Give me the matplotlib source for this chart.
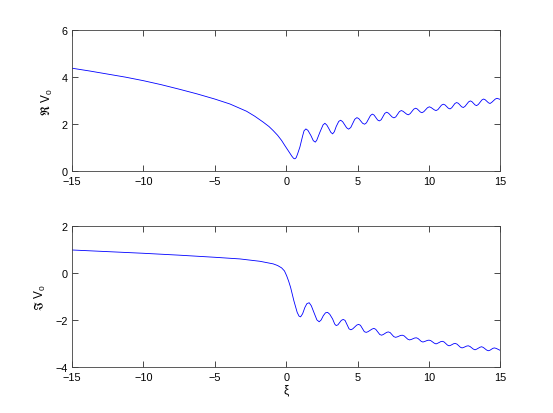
import numpy as np
import matplotlib
matplotlib.use("Agg")
import matplotlib.pyplot as plt

# values (peaks, troughs and shoulders of the ripples)
re_xi = [-15, -13.75, -12.5, -11.25, -10, -8.75, -7.5, -6.25, -5, -3.94, -2.77, -2.2,
         -1.61, -1.2, -0.91, -0.6, -0.32, -0.1, 0.14, 0.40, 0.52, 0.61, 0.70, 0.80,
         0.96, 1.15, 1.25, 1.38, 1.52, 1.73, 1.90, 2.04, 2.14, 2.36, 2.58, 2.71, 2.85,
         3.0, 3.12, 3.25, 3.37, 3.5, 3.68, 3.81, 3.95, 4.23, 4.37, 4.52, 4.80, 4.95,
         5.08, 5.35, 5.49, 5.62, 5.90, 6.03, 6.15, 6.40, 6.52, 6.65, 6.90, 7.03, 7.16,
         7.41, 7.54, 7.67, 7.93, 8.06, 8.18, 8.43, 8.55, 8.68, 8.93, 9.06, 9.17, 9.39,
         9.50, 9.63, 9.89, 10.02, 10.14, 10.37, 10.49, 10.62, 10.87, 11.00, 11.12, 11.35,
         11.47, 11.59, 11.81, 11.93, 12.05, 12.28, 12.40, 12.52, 12.77, 12.89, 13.00,
         13.22, 13.33, 13.45, 13.70, 13.82, 13.93, 14.16, 14.27, 14.39, 14.64, 14.76, 15]
re_v0 = [4.38, 4.26, 4.13, 4.00, 3.85, 3.68, 3.49, 3.29, 3.07, 2.86, 2.55, 2.34,
         2.09, 1.90, 1.73, 1.53, 1.31, 1.10, 0.88, 0.64, 0.55, 0.53, 0.58, 0.74,
         1.03, 1.50, 1.72, 1.80, 1.74, 1.52, 1.30, 1.24, 1.32, 1.66, 1.97, 2.04, 1.96,
         1.80, 1.66, 1.59, 1.68, 1.90, 2.12, 2.17, 2.11, 1.85, 1.79, 1.86, 2.21, 2.28,
         2.24, 2.04, 2.00, 2.06, 2.37, 2.43, 2.39, 2.18, 2.14, 2.19, 2.46, 2.51, 2.47,
         2.31, 2.27, 2.31, 2.54, 2.58, 2.55, 2.43, 2.40, 2.45, 2.64, 2.68, 2.65, 2.52,
         2.49, 2.53, 2.70, 2.74, 2.71, 2.61, 2.58, 2.62, 2.81, 2.85, 2.82, 2.68,
         2.65, 2.70, 2.88, 2.92, 2.89, 2.74, 2.71, 2.76, 2.95, 2.99, 2.96,
         2.82, 2.79, 2.84, 3.03, 3.07, 3.04, 2.91, 2.88, 2.93, 3.07, 3.10, 3.05]

im_xi = [-15, -12.5, -10, -7.5, -5, -3.24, -1.84, -0.91, -0.6, -0.32, -0.12, 0.03,
         0.17, 0.31, 0.54, 0.77, 0.90, 1.01, 1.15, 1.31, 1.45, 1.61, 1.76, 1.94, 2.15,
         2.31, 2.45, 2.60, 2.75, 2.90, 3.05, 3.25, 3.40, 3.50, 3.62, 3.86, 3.99, 4.12,
         4.40, 4.53, 4.66, 4.94, 5.07, 5.20, 5.47, 5.60, 5.73, 6.01, 6.14, 6.27, 6.55,
         6.68, 6.80, 7.03, 7.15, 7.28, 7.53, 7.66, 7.78, 8.01, 8.13, 8.26, 8.51, 8.64,
         8.76, 8.99, 9.11, 9.23, 9.45, 9.57, 9.68, 9.89, 10.0, 10.12, 10.37, 10.49,
         10.61, 10.83, 10.95, 11.06, 11.29, 11.4, 11.51, 11.73, 11.84, 11.96, 12.19,
         12.31, 12.42, 12.64, 12.75, 12.87, 13.10, 13.22, 13.34, 13.57, 13.68, 13.80,
         14.03, 14.15, 14.26, 14.46, 14.57, 14.70, 15]
im_v0 = [0.99, 0.92, 0.85, 0.77, 0.68, 0.61, 0.51, 0.40, 0.33, 0.23, 0.10, -0.10,
         -0.33, -0.60, -1.17, -1.66, -1.82, -1.85, -1.72, -1.45, -1.29, -1.25, -1.38, -1.66, -1.98,
         -2.06, -1.98, -1.80, -1.68, -1.66, -1.74, -1.94, -2.16, -2.22, -2.19, -2.00, -1.96, -2.00,
         -2.36, -2.40, -2.36, -2.20, -2.17, -2.21, -2.48, -2.51, -2.48, -2.37, -2.34, -2.38, -2.60,
         -2.63, -2.60, -2.51, -2.49, -2.52, -2.69, -2.72, -2.70, -2.64, -2.63, -2.66, -2.80, -2.83,
         -2.81, -2.75, -2.74, -2.77, -2.89, -2.92, -2.90, -2.85, -2.84, -2.86, -2.97, -3.00,
         -2.97, -2.90, -2.89, -2.92, -3.05, -3.08, -3.06, -2.99, -2.98, -3.01, -3.14,
         -3.17, -3.15, -3.09, -3.08, -3.11, -3.22, -3.25, -3.22, -3.14, -3.12, -3.15,
         -3.26, -3.29, -3.27, -3.19, -3.17, -3.19, -3.28]

x_ticks = [-15, -10, -5, 0, 5, 10, 15]
re_ticks = [0, 2, 4, 6]
im_ticks = [-4, -2, 0, 2]

plt.rcParams["font.family"] = ["Liberation Sans", "DejaVu Sans"]
plt.rcParams["mathtext.default"] = "regular"


def matlab_axes(ax, yticks):
    ax.set_xlim(-15, 15)
    ax.set_ylim(yticks[0], yticks[-1])
    ax.set_xticks(x_ticks)
    ax.set_yticks(yticks)
    ax.tick_params(direction="in", top=True, right=True, length=4, width=0.5,
                   colors="black", labelsize=7.8)
    ax.tick_params(axis="x", pad=3.5)
    ax.tick_params(axis="y", pad=3)
    for s in ax.spines.values():
        s.set_linewidth(0.6)
        s.set_color("#404040")


fig = plt.figure(figsize=(5.53, 4.14), dpi=100)
ax1 = fig.add_axes([0.13, 0.5838, 0.775, 0.3412])
ax2 = fig.add_axes([0.13, 0.11, 0.775, 0.3412])

ax1.plot(re_xi, re_v0, color="blue", lw=0.6)
matlab_axes(ax1, re_ticks)
ax1.set_ylabel(r"$\Re$ V$_0$", fontsize=8.5, labelpad=5)

ax2.plot(im_xi, im_v0, color="blue", lw=0.6)
matlab_axes(ax2, im_ticks)
ax2.set_ylabel(r"$\Im$ V$_0$", fontsize=8.5, labelpad=5)
ax2.set_xlabel(r"$\xi$", fontsize=8.5, labelpad=0.5)

fig.savefig("out.png", dpi=100)
